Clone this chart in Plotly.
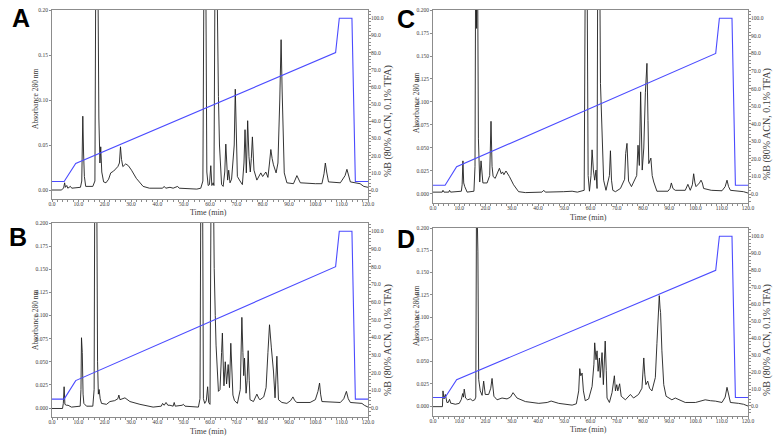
import plotly.graph_objects as go

# ---------------- data ----------------
grad_time = [0, 4.6, 9.0, 107.7, 109.1, 113.9, 115.2, 120]
grad_pct = [5, 5, 15.5, 80, 100, 100, 5, 5]

A_time = [0, 3.5, 4.4, 4.8, 5.1, 5.6, 6.0, 7.0, 7.5, 10.8, 11.3, 11.7, 12.0, 12.3, 12.8, 15.5, 16.3, 16.7, 17.0, 17.3,
          17.8, 18.2, 18.5, 18.9, 19.6, 20.5, 21.5, 22.3, 23.4, 25.0, 25.6, 26.0, 26.4, 26.9, 28.0, 29.0, 30.2, 32.0,
          34.6, 37.0, 42.0, 42.6, 43.2, 44.8, 46.0, 47.7, 48.3, 52.0, 55.0, 56.5, 57.3, 57.8, 58.3, 58.8, 59.3, 59.8,
          60.3, 60.7, 61.2, 61.5, 62.0, 62.4, 62.9, 63.2, 63.6, 64.4, 65.0, 65.6, 66.0, 66.4, 66.7, 67.1, 67.6, 68.2,
          69.2, 69.6, 70.0, 70.4, 71.4, 72.3, 72.9, 73.3, 73.8, 74.3, 74.8, 75.3, 75.7, 76.1, 76.7, 77.8, 79.3, 80.0,
          81.2, 82.0, 82.6, 83.1, 83.6, 84.1, 85.1, 85.8, 86.5, 87.0, 87.4, 87.8, 88.2, 89.2, 91.7, 93.0, 94.3, 100.0,
          102.5, 103.3, 103.8, 104.3, 105.0, 109.5, 111.3, 112.0, 112.6, 113.3, 117.0, 118.4, 120.0]
A_abs = [0.000, 0.000, 0.002, 0.008, 0.003, 0.005, 0.002, 0.004, 0.002, 0.003, 0.010, 0.082, 0.040, 0.015, 0.004, 0.004,
         0.010, 0.30, 0.20, 0.30, 0.08, 0.030, 0.048, 0.020, 0.009, 0.008, 0.012, 0.019, 0.021, 0.026, 0.030, 0.048,
         0.034, 0.026, 0.029, 0.027, 0.022, 0.013, 0.004, 0.002, 0.002, 0.004, 0.002, 0.003, 0.002, 0.004, 0.002,
         0.001, 0.001, 0.002, 0.010, 0.30, 0.30, 0.020, 0.005, 0.006, 0.027, 0.005, 0.008, 0.005, 0.30, 0.30, 0.130,
         0.104, 0.050, 0.006, 0.004, 0.020, 0.051, 0.020, 0.011, 0.022, 0.008, 0.012, 0.050, 0.112, 0.060, 0.015,
         0.010, 0.006, 0.030, 0.067, 0.019, 0.077, 0.037, 0.020, 0.035, 0.059, 0.022, 0.011, 0.019, 0.015, 0.020,
         0.014, 0.030, 0.045, 0.035, 0.028, 0.019, 0.030, 0.100, 0.167, 0.110, 0.040, 0.019, 0.008, 0.007, 0.016,
         0.008, 0.007, 0.007, 0.018, 0.030, 0.020, 0.009, 0.008, 0.016, 0.023, 0.016, 0.009, 0.007, 0.004, 0.003]

B_time = [0, 4.0, 4.3, 4.6, 4.9, 5.5, 6.1, 7.4, 10.7, 11.0, 11.2, 11.5, 11.8, 12.1, 13.1, 15.5, 16.0, 16.3, 16.6, 16.9,
          17.3, 17.6, 17.9, 18.3, 18.8, 20.7, 22.0, 23.8, 25.0, 25.4, 25.8, 26.5, 27.7, 29.6, 33.4, 38.4, 41.5, 42.0,
          42.6, 43.3, 44.0, 44.8, 46.0, 46.4, 46.8, 49.4, 49.9, 50.5, 53.7, 55.6, 56.2, 56.6, 57.1, 57.5, 58.0, 58.6,
          59.1, 59.5, 60.0, 60.5, 61.1, 61.4, 61.6, 62.0, 62.3, 63.2, 63.8, 64.4, 64.7, 65.1, 65.3, 65.8, 66.3, 66.9,
          67.4, 67.9, 68.3, 68.7, 69.3, 70.4, 71.5, 72.1, 72.5, 72.8, 73.1, 73.4, 73.7, 74.1, 74.5, 74.9, 75.2, 76.5,
          77.2, 77.8, 78.6, 79.0, 80.4, 81.3, 82.0, 82.6, 83.3, 84.1, 84.7, 85.0, 85.4, 85.8, 86.0, 87.3, 89.2, 90.6,
          91.5, 92.2, 93.0, 98.0, 100.0, 101.0, 101.6, 102.0, 102.5, 109.5, 110.8, 111.8, 112.5, 113.3, 117.7, 118.6,
          120.0]
B_abs = [-0.0005, -0.0005, 0.005, 0.023, 0.004, 0.003, 0.003, 0.001, 0.002, 0.020, 0.076, 0.060, 0.015, 0.005, 0.002,
         0.002, 0.020, 0.30, 0.25, 0.30, 0.050, 0.015, 0.020, 0.010, 0.005, 0.004, 0.007, 0.008, 0.010, 0.014, 0.009,
         0.010, 0.011, 0.007, 0.004, 0.001, 0.002, 0.005, 0.003, 0.006, 0.003, 0.003, 0.002, 0.006, 0.002, 0.003,
         0.004, 0.002, 0.001, 0.001, 0.010, 0.30, 0.30, 0.010, 0.005, 0.008, 0.023, 0.006, 0.004, 0.30, 0.30, 0.160,
         0.151, 0.100, 0.068, 0.018, 0.020, 0.060, 0.081, 0.040, 0.024, 0.050, 0.026, 0.047, 0.022, 0.070, 0.030,
         0.014, 0.008, 0.005, 0.020, 0.098, 0.060, 0.035, 0.054, 0.030, 0.016, 0.030, 0.062, 0.030, 0.009, 0.007,
         0.011, 0.015, 0.010, 0.009, 0.012, 0.022, 0.060, 0.090, 0.065, 0.040, 0.011, 0.030, 0.056, 0.025, 0.009,
         0.006, 0.005, 0.008, 0.012, 0.008, 0.006, 0.006, 0.009, 0.018, 0.027, 0.015, 0.007, 0.006, 0.010, 0.018,
         0.010, 0.006, 0.005, 0.003, 0.001]

C_time = [0, 3.5, 3.8, 4.2, 6.0, 6.3, 6.7, 10.8, 11.1, 11.4, 11.7, 12.1, 13.0, 15.6, 16.0, 16.3, 16.6, 16.9, 17.3, 17.8,
          18.3, 19.0, 20.6, 21.6, 22.1, 22.5, 22.9, 23.7, 25.3, 26.0, 26.5, 27.0, 27.8, 29.1, 30.7, 32.6, 35.2, 41.5,
          42.2, 42.8, 49.8, 53.0, 55.0, 57.6, 58.1, 58.6, 59.1, 59.6, 60.2, 60.6, 61.1, 61.6, 62.1, 62.5, 62.8, 63.4,
          63.8, 64.1, 64.5, 65.0, 65.9, 67.2, 67.6, 68.0, 68.5, 69.5, 71.4, 72.3, 73.0, 73.4, 73.9, 74.5, 75.6, 77.6,
          78.1, 78.6, 79.1, 79.7, 80.3, 80.9, 81.5, 81.9, 82.2, 83.0, 83.5, 84.1, 85.3, 89.5, 90.3, 90.8, 91.4, 92.3,
          96.1, 97.1, 98.0, 98.8, 99.3, 99.8, 100.2, 101.5, 102.1, 102.6, 103.1, 106.0, 110.1, 111.3, 112.0, 112.6,
          113.3, 118.3, 120.0]
C_abs = [0.002, 0.002, 0.004, 0.002, 0.002, 0.004, 0.002, 0.003, 0.010, 0.036, 0.012, 0.008, 0.002, 0.003, 0.030,
         0.30, 0.18, 0.30, 0.060, 0.013, 0.036, 0.012, 0.012, 0.020, 0.079, 0.030, 0.019, 0.017, 0.028, 0.022, 0.024,
         0.021, 0.025, 0.019, 0.010, 0.0025, 0.0015, 0.002, 0.004, 0.002, 0.0025, 0.003, 0.002, 0.004, 0.30, 0.30,
         0.020, 0.003, 0.020, 0.048, 0.026, 0.015, 0.026, 0.006, 0.30, 0.30, 0.120, 0.091, 0.040, 0.015, 0.004, 0.020,
         0.047, 0.015, 0.004, 0.0025, 0.006, 0.012, 0.016, 0.044, 0.055, 0.014, 0.008, 0.020, 0.053, 0.031, 0.111,
         0.026, 0.050, 0.110, 0.142, 0.080, 0.033, 0.039, 0.020, 0.013, 0.003, 0.003, 0.006, 0.012, 0.006, 0.004,
         0.004, 0.0105, 0.004, 0.010, 0.022, 0.012, 0.008, 0.012, 0.015, 0.012, 0.006, 0.004, 0.0035, 0.008, 0.015,
         0.008, 0.004, 0.0025, 0.001]

D_time = [0, 3.6, 3.8, 4.2, 4.7, 5.3, 5.8, 6.3, 6.8, 7.2, 8.5, 10.0, 10.8, 11.3, 11.6, 11.9, 12.4, 13.2, 14.2, 15.1,
          15.9, 16.3, 16.6, 16.9, 17.1, 17.4, 18.0, 18.7, 19.3, 19.9, 21.2, 22.0, 22.5, 23.2, 24.4, 26.3, 28.2, 29.5,
          30.5, 32.0, 35.2, 40.3, 43.5, 45.0, 47.9, 53.0, 54.6, 55.5, 55.9, 56.3, 56.8, 57.3, 58.0, 59.3, 60.6, 61.3,
          61.6, 62.1, 62.5, 62.9, 63.4, 63.7, 64.4, 64.9, 65.2, 65.6, 66.0, 66.3, 67.2, 68.2, 69.1, 69.5, 70.0, 70.4,
          71.1, 71.7, 73.3, 75.2, 76.4, 78.3, 79.6, 80.0, 80.3, 80.7, 81.1, 81.8, 82.5, 83.4, 84.7, 85.3, 85.7, 86.2,
          86.5, 86.7, 87.2, 87.9, 88.8, 91.0, 92.3, 94.9, 96.1, 100.0, 102.5, 103.7, 105.7, 107.6, 110.1, 111.3, 112.0,
          112.6, 113.3, 116.4, 118.3, 120.0]
D_abs = [-0.0007, -0.0007, 0.017, 0.008, 0.013, 0.004, 0.004, 0.0075, 0.003, 0.003, 0.002, 0.003, 0.0075, 0.014,
         0.010, 0.019, 0.009, 0.007, 0.008, 0.006, 0.007, 0.010, 0.25, 0.18, 0.174, 0.030, 0.017, 0.012, 0.028, 0.013,
         0.013, 0.020, 0.031, 0.011, 0.007, 0.009, 0.008, 0.010, 0.015, 0.009, 0.005, 0.003, 0.004, 0.0056, 0.003,
         0.001, 0.0025, 0.017, 0.042, 0.034, 0.037, 0.017, 0.006, 0.008, 0.022, 0.047, 0.071, 0.052, 0.062, 0.039,
         0.054, 0.032, 0.060, 0.024, 0.040, 0.073, 0.040, 0.009, 0.004, 0.015, 0.034, 0.017, 0.024, 0.017, 0.025,
         0.011, 0.007, 0.013, 0.009, 0.013, 0.020, 0.040, 0.054, 0.035, 0.024, 0.028, 0.020, 0.017, 0.032, 0.070,
         0.103, 0.124, 0.110, 0.105, 0.062, 0.024, 0.011, 0.007, 0.009, 0.006, 0.004, 0.004, 0.006, 0.007, 0.006,
         0.0055, 0.004, 0.010, 0.021, 0.011, 0.004, 0.003, 0.002, 0.000]

panel_labels = ["A", "B", "C", "D"]
x_ticks = [0, 10, 20, 30, 40, 50, 60, 70, 80, 90, 100, 110, 120]
pctB_ticks = [0, 10, 20, 30, 40, 50, 60, 70, 80, 90, 100]
x_title = "Time (min)"
left_title = "Absorbance 280 nm"
right_title = "%B (80% ACN, 0.1% TFA)"

# ---------------- layout helpers ----------------
W, H = 775, 438


def px_x(a, b):
    return [a / W, b / W]


def px_y(top, bottom):
    return [1 - bottom / H, 1 - top / H]


# label, time, abs, xdom px, ydom px, left dtick, left fmt, letter pos, left range, right range,
# left title pos, right title pos, x title pos  (all in pixels)
panels = [
    ("A", A_time, A_abs, (52, 368), (10, 199), 0.05, ".2f", (21, 18), (-0.010, 0.2), (-5.2, 104.8),
     (35, 99), (388, 121), (209, 213)),
    ("B", B_time, B_abs, (52, 368), (223, 417), 0.025, ".3f", (18, 237), (-0.0097, 0.2), (-5.1, 104.7),
     (35, 320), (388, 340), (209, 431)),
    ("C", C_time, C_abs, (433, 748), (10, 203), 0.025, ".3f", (406, 19), (-0.0098, 0.2), (-5.1, 104.7),
     (416, 103), (767, 124), (588, 217)),
    ("D", D_time, D_abs, (433, 748), (228, 416), 0.025, ".3f", (406, 239), (-0.0112, 0.2), (-5.9, 104.9),
     (416, 316), (767, 340), (588, 429)),
]

axis_col = "#8c8c8c"
txt_col = "#3a3a3a"
serif = "Liberation Serif"

fig = go.Figure()
layout = {}
annotations = []


def pann(text, px, py, size, angle=0, family=serif, color=txt_col):
    return dict(text=text, x=px / W, y=1 - py / H, xref="paper", yref="paper", xanchor="center",
                yanchor="middle", showarrow=False, textangle=angle,
                font=dict(family=family, size=size, color=color))


for i, (lab, t, a, xd, yd, ldt, lfmt, lpos, lrange, rrange, ltp, rtp, xtp) in enumerate(panels):
    n = i + 1
    xa = "x" if n == 1 else f"x{n}"
    ya = "y" if n == 1 else f"y{n}"
    yr = f"y{n + 4}"
    fig.add_trace(go.Scatter(x=t, y=a, xaxis=xa, yaxis=ya, mode="lines",
                             line=dict(color="#1e1e1e", width=0.9), showlegend=False, hoverinfo="skip"))
    fig.add_trace(go.Scatter(x=grad_time, y=grad_pct, xaxis=xa, yaxis=yr, mode="lines",
                             line=dict(color="#4b4bff", width=1.1), showlegend=False, hoverinfo="skip"))
    xkey = "xaxis" if n == 1 else f"xaxis{n}"
    ykey = "yaxis" if n == 1 else f"yaxis{n}"
    rkey = f"yaxis{n + 4}"
    layout[xkey] = dict(
        domain=px_x(*xd), anchor=ya, range=[0, 120], tickvals=x_ticks, tickformat=".1f",
        ticks="outside", ticklen=2, tickwidth=1, tickcolor=axis_col,
        minor=dict(dtick=2, ticks="outside", ticklen=1.5, tickcolor=axis_col),
        showline=True, linecolor=axis_col, linewidth=1, mirror=True,
        showgrid=False, zeroline=False, automargin=False, ticklabelstandoff=-3,
        tickfont=dict(family=serif, size=5.5, color=txt_col),
    )
    layout[ykey] = dict(
        domain=px_y(*yd), anchor=xa, range=list(lrange), dtick=ldt, tick0=0, tickformat=lfmt,
        ticks="outside", ticklen=2, tickcolor=axis_col,
        showline=True, linecolor=axis_col, linewidth=1,
        showgrid=False, zeroline=False, automargin=False,
        tickfont=dict(family=serif, size=5.5, color=txt_col),
    )
    layout[rkey] = dict(
        overlaying=ya, anchor=xa, side="right", range=list(rrange), tickvals=pctB_ticks, tickformat=".1f",
        ticks="outside", ticklen=2, tickcolor=axis_col,
        minor=dict(dtick=2, ticks="outside", ticklen=1.5, tickcolor=axis_col),
        showline=True, linecolor=axis_col, linewidth=1,
        showgrid=False, zeroline=False, automargin=False, ticklabelstandoff=-1,
        tickfont=dict(family=serif, size=5.5, color=txt_col),
    )
    annotations.append(pann(f"<b>{lab}</b>", lpos[0], lpos[1], 25, family="Liberation Sans", color="#000000"))
    annotations.append(pann(left_title, ltp[0], ltp[1], 7.5, angle=-90))
    annotations.append(pann(right_title, rtp[0], rtp[1], 10, angle=-90))
    annotations.append(pann(x_title, xtp[0], xtp[1], 8))

fig.update_layout(**layout)
fig.update_layout(width=W, height=H, margin=dict(l=0, r=0, t=0, b=0),
                  paper_bgcolor="white", plot_bgcolor="white", annotations=annotations)
fig.write_html("out.html", config={"displayModeBar": False},
               post_script="document.body.style.margin='0px';document.body.style.padding='0px';")
